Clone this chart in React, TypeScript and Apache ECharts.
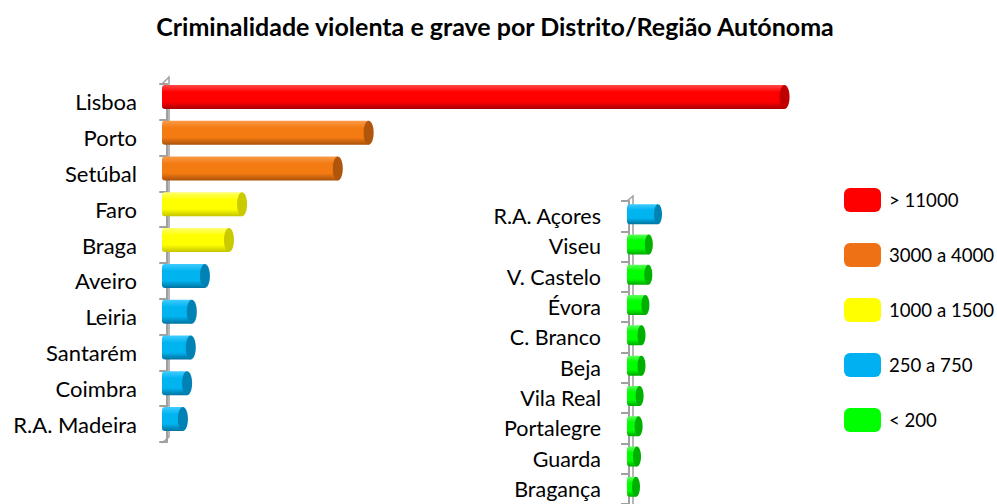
import React, { useEffect, useRef } from "react";
import * as echarts from "echarts";

const title = "Criminalidade violenta e grave por Distrito/Região Autónoma";

const leftCategories = ["Lisboa", "Porto", "Setúbal", "Faro", "Braga", "Aveiro", "Leiria", "Santarém", "Coimbra", "R.A. Madeira"];
const leftValues = [11800, 3850, 3260, 1430, 1180, 720, 470, 450, 380, 300];

const rightCategories = ["R.A. Açores", "Viseu", "V. Castelo", "Évora", "C. Branco", "Beja", "Vila Real", "Portalegre", "Guarda", "Bragança"];
const rightValues = [290, 198, 193, 164, 125, 125, 106, 96, 80, 70];

const legendLabels = ["> 11000", "3000 a 4000", "1000 a 1500", "250 a 750", "< 200"];
const legendThresholds = [11000, 3000, 1000, 250, -Infinity];

const palette = [
  { base: "#FF0000", light: "#FF4A4A", dark: "#A80000", cap: "#C00000", legend: "#FF0000" },
  { base: "#F47A12", light: "#F99A48", dark: "#A8520A", cap: "#B0560C", legend: "#EE7116" },
  { base: "#FFFF00", light: "#FFFF70", dark: "#C4C400", cap: "#CACA00", legend: "#FFFF00" },
  { base: "#00B4F0", light: "#40CCFF", dark: "#0072A0", cap: "#0082B4", legend: "#00B0F0" },
  { base: "#00FF00", light: "#60FF60", dark: "#00A800", cap: "#00B000", legend: "#00FF00" },
];

const FONT = "Lato";

function groupOf(v: number) {
  for (let i = 0; i < legendThresholds.length; i++) if (v >= legendThresholds[i]) return i;
  return legendThresholds.length - 1;
}

export default function App() {
  const ref = useRef<HTMLDivElement>(null);
  useEffect(() => {
    if (!ref.current) return;
    const chart = echarts.init(ref.current, null, { renderer: "svg" });

    const grids = [
      { left: 162, top: 84, width: 633, height: 358, min: -100, max: 12000, thick: 24, dy: -5, rx: 5, font: 22, margin: 25, cats: leftCategories, vals: leftValues },
      { left: 627, top: 201, width: 102, height: 305, min: -20, max: 1000, thick: 20, dy: -2, rx: 4, font: 21.5, margin: 26, cats: rightCategories, vals: rightValues },
    ];

    const makeRender = (gi: number, group: number) => (params: any, api: any) => {
      const g = grids[gi];
      const pal = palette[group];
      const v = api.value(0);
      const c = api.value(1);
      const p = api.coord([v, c]);
      const s = api.coord([g.min, c]);
      const cy = p[1] + g.dy;
      const h = g.thick;
      return {
        type: "group",
        children: [
          {
            type: "rect",
            shape: { x: s[0], y: cy - h / 2, width: p[0] - s[0], height: h, r: [3, 0, 0, 3] },
            style: {
              fill: new echarts.graphic.LinearGradient(0, 0, 0, 1, [
                { offset: 0, color: pal.light },
                { offset: 0.3, color: pal.base },
                { offset: 0.7, color: pal.base },
                { offset: 1, color: pal.dark },
              ]),
            },
          },
          {
            type: "ellipse",
            shape: { cx: p[0], cy, rx: g.rx, ry: h / 2 },
            style: { fill: pal.cap },
          },
        ],
      };
    };

    const series: any[] = [];
    grids.forEach((g, gi) => {
      const byGroup: Record<number, number[][]> = {};
      g.vals.forEach((v, i) => {
        const k = groupOf(v);
        (byGroup[k] = byGroup[k] || []).push([v, i]);
      });
      Object.keys(byGroup).forEach((k) => {
        const gr = Number(k);
        series.push({
          type: "custom",
          name: legendLabels[gr],
          xAxisIndex: gi,
          yAxisIndex: gi,
          data: byGroup[gr],
          encode: { x: 0, y: 1 },
          itemStyle: { color: palette[gr].legend },
          renderItem: makeRender(gi, gr),
          clip: false,
        });
      });
    });

    const axisColor = "#A0A0A0";

    chart.setOption({
      animation: false,
      title: {
        text: title,
        left: 490,
        top: 8,
        textAlign: "center",
        textStyle: { fontFamily: FONT, fontSize: 25, fontWeight: "bold", color: "#000" },
      },
      legend: {
        orient: "vertical",
        left: 844,
        top: 188,
        itemWidth: 37,
        itemHeight: 24,
        itemGap: 31,
        padding: 0,
        icon: "roundRect",
        selectedMode: false,
        textStyle: { fontFamily: FONT, fontSize: 18.6, color: "#000", padding: [0, 0, 0, 3] },
        data: legendLabels.map((n, i) => ({ name: n, itemStyle: { color: palette[i].legend } })),
      },
      grid: grids.map((g) => ({ left: g.left, top: g.top, width: g.width, height: g.height })),
      xAxis: grids.map((g, gi) => ({
        type: "value",
        gridIndex: gi,
        min: g.min,
        max: g.max,
        show: false,
        splitLine: { show: false },
      })),
      yAxis: grids.map((g, gi) => ({
        type: "category",
        gridIndex: gi,
        data: g.cats,
        inverse: true,
        axisLine: { show: true, lineStyle: { color: axisColor, width: 2 } },
        axisTick: { show: true, length: 8, lineStyle: { color: axisColor, width: 2 } },
        axisLabel: { fontFamily: FONT, fontSize: g.font, color: "#000", margin: g.margin },
        splitLine: { show: false },
      })),
      graphic: [
        {
          type: "polyline",
          shape: { points: [[162, 84], [169, 77], [169, 437], [162, 443]] },
          style: { stroke: axisColor, lineWidth: 1.5, fill: null },
          z: -1,
        },
        {
          type: "polyline",
          shape: { points: [[627, 201], [633, 196], [633, 504]] },
          style: { stroke: axisColor, lineWidth: 1.5, fill: null },
          z: -1,
        },
      ],
      series,
    });
    return () => chart.dispose();
  }, []);
  return <div ref={ref} style={{ position: "fixed", left: 0, top: 0, width: 997, height: 504, background: "#fff" }} />;
}
